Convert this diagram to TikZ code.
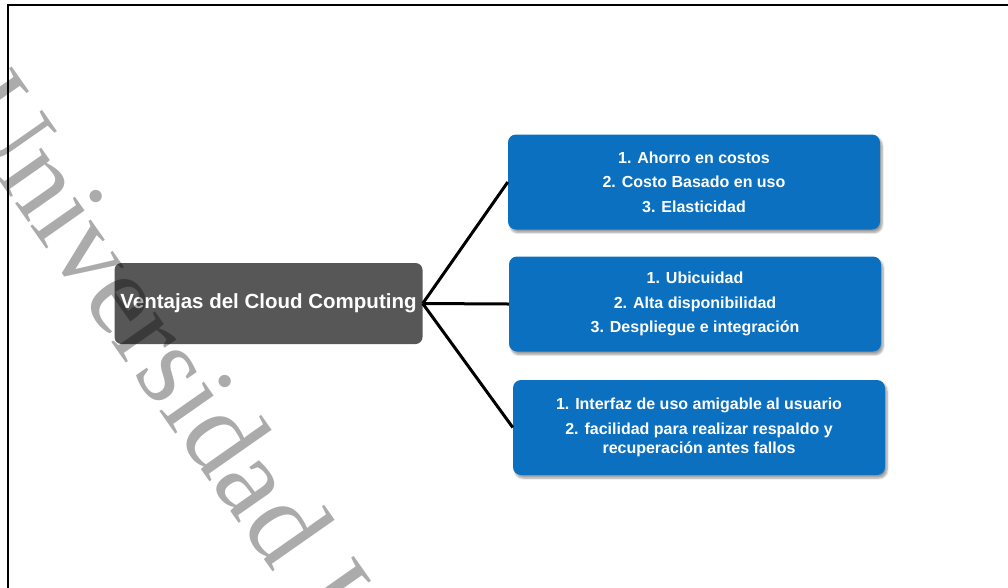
\documentclass[tikz,border=0pt]{standalone}
\usepackage{fontspec}
\setmainfont{Liberation Sans}
\newfontfamily\wmfont{Liberation Serif}
\usetikzlibrary{shadows.blur}
\definecolor{hubgray}{RGB}{87,87,87}
\definecolor{itemblue}{RGB}{11,112,192}

\begin{document}
\begin{tikzpicture}[x=1pt,y=-1pt,
  hub/.style={fill=hubgray, rounded corners=7pt, text=white,
    font=\bfseries\fontsize{20.5}{24}\selectfont, inner sep=0pt,
    minimum width=308pt, minimum height=81pt},
  itembox/.style={fill=itemblue, rounded corners=8pt, text=white,
    font=\bfseries\fontsize{16}{24.5}\selectfont, align=center, inner sep=0pt,
    minimum width=372pt, minimum height=95pt,
    blur shadow={shadow xshift=2pt, shadow yshift=-3pt, shadow blur steps=6, shadow opacity=40}},
  link/.style={line width=3pt, black},
  frameline/.style={line width=2.5pt, black},
  watermark/.style={anchor=base west, rotate=-55, inner sep=0pt, text=black,
    text opacity=0.33, font=\wmfont\fontsize{116}{116}\selectfont}]

\useasboundingbox (0,0) rectangle (1008,587);
\begin{scope}
\clip (0,0) rectangle (1008,587);

% page frame (top and left edges)
\draw[frameline] (8,600) -- (8,5) -- (1020,5);

% central topic
\node[hub] (hub) at (268.5,303.5) {Ventajas del Cloud Computing};

% advantage groups
\node[itembox] (b1) at (694,182) {1. Ahorro en costos\\2. Costo Basado en uso\\3. Elasticidad};
\node[itembox] (b2) at (695,304) {1. Ubicuidad\\2. Alta disponibilidad\\3. Despliegue e integración};
\node[itembox, font=\bfseries\fontsize{16}{19}\selectfont] (b3) at (699,427.5)
  {1. Interfaz de uso amigable al usuario\\[6pt]2. facilidad para realizar respaldo y\\recuperación antes fallos};

% connectors
\draw[link] (hub.east) -- (b1.west);
\draw[link] (hub.east) -- (b2.west);
\draw[link] (hub.east) -- (b3.west);

% watermark
\node[watermark] (wm) at (-52,108) {Universidad Internacional};
\end{scope}
\end{tikzpicture}
\end{document}
